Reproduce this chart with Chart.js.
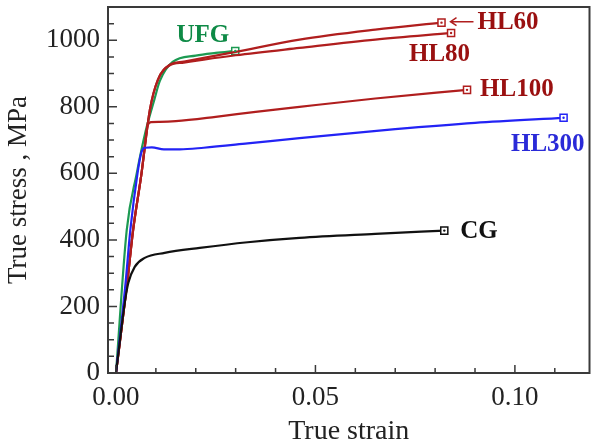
<!DOCTYPE html>
<html>
<head>
<meta charset="utf-8">
<script src="https://cdn.jsdelivr.net/npm/chart.js@4"></script>
<style>
  html, body { margin: 0; padding: 0; background: #fff; }
  canvas { display: block; }
</style>
</head>
<body>
<canvas id="chart" width="596" height="448"></canvas>
<script>
(() => {
  // values
  const cgStrain = [0, 0.0022, 0.0031, 0.0047, 0.0072, 0.0122, 0.021, 0.033, 0.046, 0.065, 0.0823];
  const cgStress = [0, 211, 271, 319, 346, 361, 376, 393, 406, 418, 428];

  const hl300Strain = [0, 0.0024, 0.0036, 0.0054, 0.0063, 0.0072, 0.009, 0.012, 0.016, 0.022, 0.033, 0.046, 0.07, 0.09, 0.1122];
  const hl300Stress = [0, 270, 430, 600, 660, 677, 678, 672, 672, 677, 690, 706, 733, 752, 767];

  const hl100Strain = [0, 0.0029, 0.0043, 0.0064, 0.0074, 0.0079, 0.0088, 0.011, 0.015, 0.025, 0.035, 0.046, 0.065, 0.088];
  const hl100Stress = [0, 280, 430, 600, 700, 743, 754, 755, 757, 770, 785, 800, 825, 851];

  const hl80Strain = [0, 0.0029, 0.0043, 0.0064, 0.0085, 0.0105, 0.0134, 0.017, 0.022, 0.03, 0.046, 0.065, 0.084];
  const hl80Stress = [0, 280, 430, 600, 791, 881, 924, 933, 942, 955, 977, 1002, 1022];

  const hl60Strain = [0, 0.0029, 0.0043, 0.0064, 0.0085, 0.0105, 0.0134, 0.017, 0.022, 0.03, 0.046, 0.065, 0.0816];
  const hl60Stress = [0, 280, 430, 600, 791, 881, 926, 936, 947, 965, 1002, 1032, 1053];

  const ufgStrain = [0, 0.0027, 0.0052, 0.0075, 0.0096, 0.011, 0.0142, 0.02, 0.025, 0.0299];
  const ufgStress = [0, 430, 600, 730, 821, 878, 935, 954, 962, 968];

  const seriesNames = ["CG", "HL300", "HL100", "HL80", "HL60", "UFG"];
  const xTicks = [0, 0.01, 0.02, 0.03, 0.04, 0.05, 0.06, 0.07, 0.08, 0.09, 0.10, 0.11];

  const toPoints = (xs, ys) => xs.map((x, i) => ({ x: x, y: ys[i] }));

  const red = "#b01e1e";
  const styles = {
    CG: { line: "#111111", text: "#111111", dx: 16, dy: 1, align: "left" },
    HL300: { line: "#2323f5", text: "#2a2ad8", dx: 21, dy: 27, align: "right" },
    HL100: { line: red, text: "#9a1010", dx: 13, dy: 0, align: "left" },
    HL80: { line: red, text: "#9a1010", dx: 19, dy: 22, align: "right" },
    HL60: { line: red, text: "#9a1010", dx: 36, dy: 0, align: "left", arrow: true },
    UFG: { line: "#1c9a52", text: "#0e8a46", dx: -6, dy: -15, align: "right" },
  };

  const raw = {
    CG: [cgStrain, cgStress],
    HL300: [hl300Strain, hl300Stress],
    HL100: [hl100Strain, hl100Stress],
    HL80: [hl80Strain, hl80Stress],
    HL60: [hl60Strain, hl60Stress],
    UFG: [ufgStrain, ufgStress],
  };

  const datasets = seriesNames.map((name) => {
    const pts = toPoints(raw[name][0], raw[name][1]);
    const last = pts.length - 1;
    return {
      label: name,
      data: pts,
      showLine: true,
      borderColor: styles[name].line,
      borderWidth: 2.2,
      cubicInterpolationMode: "monotone",
      pointStyle: "rect",
      pointRadius: pts.map((p, i) => (i === last ? 5 : 0)),
      pointHoverRadius: 0,
      pointBorderWidth: 1.5,
      pointBorderColor: styles[name].line,
      pointBackgroundColor: "#ffffff",
    };
  });

  const serif = "'Liberation Serif', 'DejaVu Serif', serif";

  const decorations = {
    id: "decorations",
    afterDatasetsDraw(chart) {
      const { ctx, chartArea: a, scales } = chart;
      ctx.save();

      // frame
      ctx.strokeStyle = "#3a3a3a";
      ctx.lineWidth = 2;
      ctx.strokeRect(a.left, a.top, a.right - a.left, a.bottom - a.top);

      // inward ticks
      ctx.lineWidth = 1.5;
      ctx.beginPath();
      xTicks.forEach((v) => {
        const px = scales.x.getPixelForValue(v);
        const major = Math.abs(v / 0.05 - Math.round(v / 0.05)) < 1e-6;
        ctx.moveTo(px, a.bottom);
        ctx.lineTo(px, a.bottom - (major ? 8 : 5));
      });
      for (let v = 0; v <= 1100; v += 50) {
        const py = scales.y.getPixelForValue(v);
        ctx.moveTo(a.left, py);
        ctx.lineTo(a.left + (v % 200 === 0 ? 9 : 6), py);
      }
      ctx.stroke();

      // end markers: centre dot and label
      chart.data.datasets.forEach((ds, i) => {
        const meta = chart.getDatasetMeta(i);
        const pt = meta.data[meta.data.length - 1];
        const st = styles[ds.label];
        ctx.fillStyle = st.line;
        ctx.beginPath();
        ctx.arc(pt.x, pt.y, 1.2, 0, Math.PI * 2);
        ctx.fill();

        ctx.font = "bold 25px " + serif;
        ctx.fillStyle = st.text;
        ctx.textAlign = st.align;
        ctx.textBaseline = "middle";
        ctx.fillText(ds.label, pt.x + st.dx, pt.y + st.dy);

        if (st.arrow) {
          ctx.strokeStyle = st.line;
          ctx.lineWidth = 1.5;
          ctx.beginPath();
          ctx.moveTo(pt.x + 32, pt.y - 1);
          ctx.lineTo(pt.x + 9, pt.y - 1);
          ctx.moveTo(pt.x + 15, pt.y - 5);
          ctx.lineTo(pt.x + 9, pt.y - 1);
          ctx.lineTo(pt.x + 15, pt.y + 3);
          ctx.stroke();
        }
      });
      ctx.restore();
    },
  };

  new Chart(document.getElementById("chart"), {
    type: "scatter",
    data: { datasets: datasets },
    options: {
      responsive: false,
      animation: false,
      layout: { padding: { left: 0, top: 7, right: 3, bottom: 0 } },
      plugins: { legend: { display: false }, tooltip: { enabled: false } },
      scales: {
        x: {
          type: "linear",
          min: -0.002,
          max: 0.1187,
          afterFit: (s) => {
            s.height = 75;
            s.paddingLeft = 0;
            s.paddingRight = 0;
          },
          afterBuildTicks: (s) => { s.ticks = xTicks.map((v) => ({ value: v })); },
          grid: { display: false, drawTicks: false },
          border: { display: false },
          ticks: {
            autoSkip: false,
            maxRotation: 0,
            padding: 9,
            color: "#222",
            font: { family: serif, size: 27 },
            callback: (v) => (Math.abs(v / 0.05 - Math.round(v / 0.05)) < 1e-6 ? v.toFixed(2) : ""),
          },
          title: {
            display: true,
            text: "True strain",
            color: "#222",
            font: { family: serif, size: 28 },
            padding: { top: 0, bottom: 0 },
          },
        },
        y: {
          min: 0,
          max: 1100,
          afterFit: (s) => {
            s.width = 108;
            s.paddingTop = 0;
            s.paddingBottom = 0;
          },
          grid: { display: false, drawTicks: false },
          border: { display: false },
          ticks: {
            stepSize: 50,
            autoSkip: false,
            padding: 8,
            color: "#222",
            font: { family: serif, size: 27 },
            callback: (v) => (v % 200 === 0 ? v : ""),
          },
          title: {
            display: true,
            text: "True stress , MPa",
            color: "#222",
            font: { family: serif, size: 27 },
            padding: { top: 3, bottom: 0 },
          },
        },
      },
    },
    plugins: [decorations],
  });
})();
</script>
</body>
</html>
